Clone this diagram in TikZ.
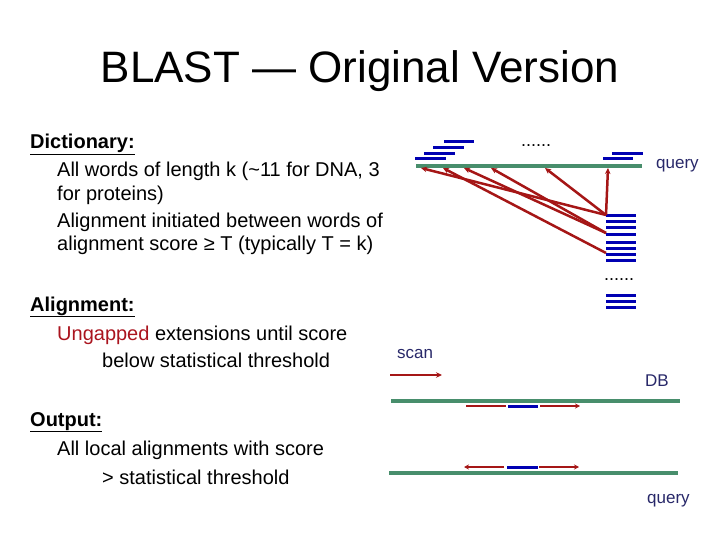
\documentclass[tikz,border=0pt]{standalone}
\usepackage{fontspec}
\setmainfont{Liberation Sans}
\usetikzlibrary{arrows.meta}
\definecolor{seqgreen}{RGB}{72,142,108}
\definecolor{wordblue}{RGB}{0,0,178}
\definecolor{hitred}{RGB}{165,22,22}
\definecolor{labnavy}{RGB}{40,40,105}
\definecolor{ungred}{RGB}{170,20,30}
\tikzset{
  seqline/.style={draw=seqgreen,line width=4.2pt},
  wordbar/.style={draw=wordblue,line width=3pt},
  hitarrow/.style={draw=hitred,line width=2.5pt,-{Stealth[length=6pt,width=5.5pt]}},
  extline/.style={draw=hitred,line width=2.5pt},
  exttip/.style={-{Stealth[length=5pt,width=5pt]}},
  bodytext/.style={anchor=base west,inner sep=0pt,font=\fontsize{20}{24}\selectfont},
  headtext/.style={bodytext,font=\fontsize{20}{24}\selectfont\bfseries},
  labeltext/.style={anchor=base west,inner sep=0pt,text=labnavy,font=\fontsize{17}{20}\selectfont},
  dotstext/.style={anchor=base west,inner sep=0pt,font=\fontsize{18}{20}\selectfont},
}
\begin{document}
\begin{tikzpicture}[x=1pt,y=-1pt]
\useasboundingbox (0,0) rectangle (720,540);
% title
\node[anchor=base,inner sep=0pt,font=\fontsize{44}{50}\selectfont] (title) at (360,83) {BLAST — Original Version};
% left text
\node[headtext] (dict) at (30,149) {\underline{Dictionary:}};
\node[bodytext] (d1) at (57,177) {All words of length k (\textasciitilde 11 for DNA, 3};
\node[bodytext] (d2) at (57,201) {for proteins)};
\node[bodytext] (d3) at (57,227) {Alignment initiated between words of};
\node[bodytext] (d4) at (57,251) {alignment score ≥ T (typically T = k)};
\node[headtext] (alig) at (30,311) {\underline{Alignment:}};
\node[bodytext] (a1) at (57,340) {\textcolor{ungred}{Ungapped} extensions until score};
\node[bodytext] (a2) at (102,367) {below statistical threshold};
\node[headtext] (outp) at (30,426) {\underline{Output:}};
\node[bodytext] (o1) at (57,455) {All local alignments with score};
\node[bodytext] (o2) at (102,484) {> statistical threshold};
% upper diagram: query line and words
\draw[seqline] (416,166) -- (642,166);
\draw[wordbar] (444,142) -- (474,142);
\draw[wordbar] (433,148) -- (464,148);
\draw[wordbar] (424,154) -- (455,154);
\draw[wordbar] (415,159) -- (446,159);
\draw[wordbar] (612,154) -- (643,154);
\draw[wordbar] (603,159) -- (633,159);
\node[dotstext] (dotsA) at (521,147) {......};
\node[labeltext] (query1) at (656,169) {query};
% stack of DB words
\foreach \yy in {216,222,228,234,242,248,254,260,295,301,307}
  \draw[wordbar] (606,\yy) -- (636,\yy);
\node[dotstext] (dotsB) at (604,280) {......};
% hit coordinates
\coordinate (s1) at (606,215);
\coordinate (s2) at (606,233);
\coordinate (s3) at (606,253);
\coordinate (q1) at (421,168);
\coordinate (q2) at (443,168);
\coordinate (q3) at (464,168);
\coordinate (q4) at (491,168);
\coordinate (q5) at (545,168);
\coordinate (q6) at (608,168);
\draw[hitarrow] (s1) -- (q1);
\draw[hitarrow] (s3) -- (q2);
\draw[hitarrow] (s2) -- (q3);
\draw[hitarrow] (s2) -- (q4);
\draw[hitarrow] (s1) -- (q5);
\draw[hitarrow] (s1) -- (q6);
% lower diagram
\node[labeltext] (scan) at (397,358) {scan};
\coordinate (scanA) at (390,375);
\coordinate (scanB) at (442,375);
\draw[hitarrow] (scanA) -- (scanB);
\node[labeltext] (db) at (645,386) {DB};
\draw[seqline] (391,401) -- (680,401);
\draw[extline] (466,406) -- (506,406);
\draw[wordbar] (508,406) -- (538,406);
\draw[extline,exttip] (540,406) -- (580,406);
\draw[seqline] (389,473) -- (678,473);
\draw[extline,exttip] (504,467) -- (464,467);
\draw[wordbar] (507,467) -- (538,467);
\draw[extline,exttip] (539,467) -- (579,467);
\node[labeltext] (query2) at (647,503) {query};
\end{tikzpicture}
\end{document}
